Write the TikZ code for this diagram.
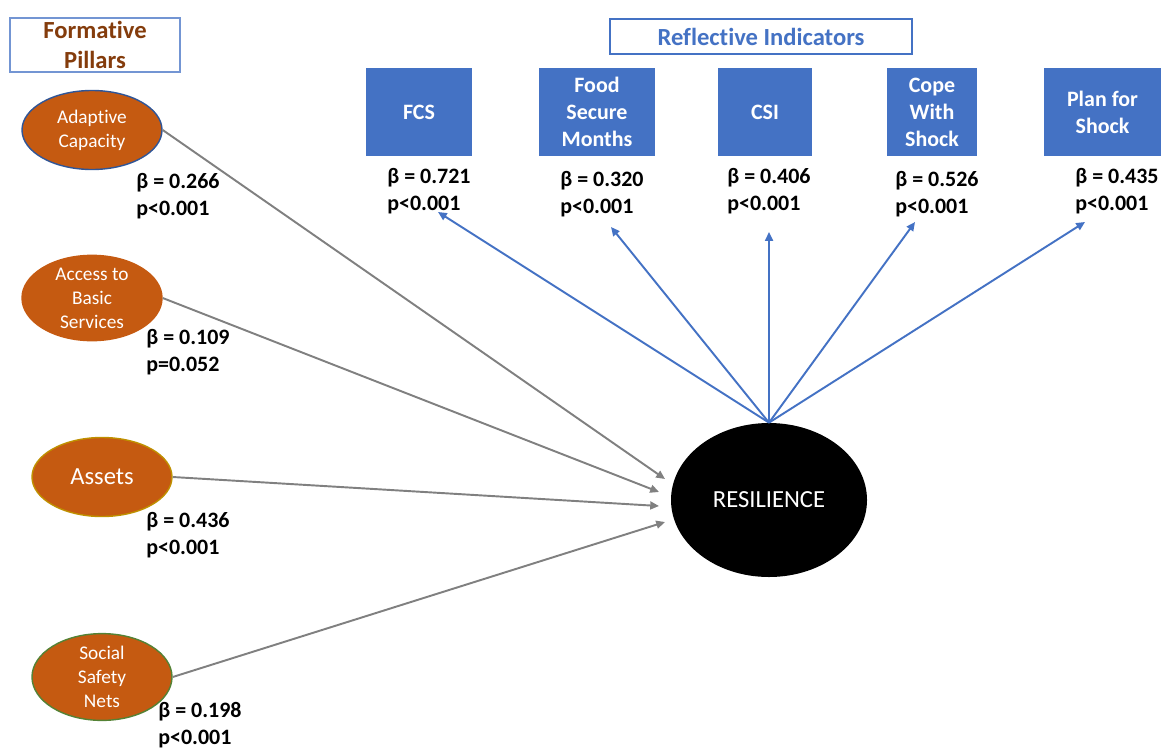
\documentclass[tikz,border=0pt]{standalone}
\usepackage{fontspec}
\setmainfont[Ligatures=NoCommon]{Carlito}
\usepackage{tikz}
\usetikzlibrary{arrows.meta, shapes.geometric, positioning}
\definecolor{officeblue}{RGB}{68,114,196}
\definecolor{officeorange}{RGB}{197,90,17}
\definecolor{pillarbrown}{RGB}{132,60,12}
\definecolor{linegray}{RGB}{128,128,128}
\definecolor{rimblue}{RGB}{47,85,151}
\definecolor{rimgold}{RGB}{191,144,0}
\definecolor{rimgreen}{RGB}{84,130,53}

\begin{document}
\begin{tikzpicture}[
    pillar/.style={ellipse, fill=officeorange, draw=officeorange, thick, minimum width=2.8cm, minimum height=1.58cm, inner sep=0pt, text=white, align=center, font=\fontsize{11}{13.6}\selectfont},
    indicator/.style={rectangle, fill=officeblue, minimum height=1.76cm, inner sep=0pt, text=white, align=center, font=\fontsize{12.5}{15.3}\selectfont\bfseries},
    coef/.style={anchor=west, inner sep=0pt, align=left, font=\fontsize{12.5}{15.3}\selectfont\bfseries},
    heading/.style={rectangle, draw, thick, fill=white, align=center, inner sep=0pt, font=\fontsize{14}{17}\selectfont\bfseries},
    inarrow/.style={-{Triangle[length=5pt, width=4.5pt]}, line width=1.1pt, linegray},
    outarrow/.style={-{Triangle[length=5pt, width=4.5pt]}, line width=1.1pt, officeblue}
]
    \useasboundingbox (0,0) rectangle (23.22,-14.98);

    % Headings
    \node[heading, draw=officeblue!75, text=pillarbrown, minimum width=3.4cm, minimum height=1.08cm] (formative) at (1.9,-0.90) {Formative\\Pillars};
    \node[heading, draw=officeblue, text=officeblue, minimum width=6.04cm, minimum height=0.7cm] (reflective) at (15.22,-0.73) {Reflective Indicators};

    % Central construct
    \node[ellipse, fill=black, minimum width=3.92cm, minimum height=3.08cm, text=white, font=\fontsize{14}{17}\selectfont] (res) at (15.38,-10.0) {RESILIENCE};

    % Formative pillars
    \node[pillar, draw=rimblue] (adap) at (1.84,-2.60) {Adaptive\\Capacity};
    \node[pillar] (access) at (1.84,-5.96) {Access to\\Basic\\Services};
    \node[pillar, draw=rimgold, font=\fontsize{14}{17}\selectfont] (assets) at (2.04,-9.54) {Assets};
    \node[pillar, draw=rimgreen] (safety) at (2.04,-13.54) {Social\\Safety\\Nets};

    % Reflective indicators
    \node[indicator, minimum width=2.12cm] (fcs) at (8.38,-2.24) {FCS};
    \node[indicator, minimum width=2.32cm] (months) at (11.94,-2.24) {Food\\Secure\\Months};
    \node[indicator, minimum width=1.88cm] (csi) at (15.30,-2.24) {CSI};
    \node[indicator, minimum width=1.80cm] (cope) at (18.64,-2.24) {Cope\\With\\Shock};
    \node[indicator, minimum width=2.34cm] (plan) at (22.05,-2.24) {Plan for\\Shock};

    % Coefficients
    \node[coef] (cadap) at (2.72,-3.92) {β = 0.266\\p<0.001};
    \node[coef] (caccess) at (2.92,-7.04) {β = 0.109\\p=0.052};
    \node[coef] (cassets) at (2.92,-10.70) {β = 0.436\\p<0.001};
    \node[coef] (csafety) at (3.16,-14.50) {β = 0.198\\p<0.001};
    \node[coef] (cfcs) at (7.74,-3.82) {β = 0.721\\p<0.001};
    \node[coef] (cmonths) at (11.20,-3.88) {β = 0.320\\p<0.001};
    \node[coef] (ccsi) at (14.54,-3.82) {β = 0.406\\p<0.001};
    \node[coef] (ccope) at (17.90,-3.88) {β = 0.526\\p<0.001};
    \node[coef] (cplan) at (21.50,-3.82) {β = 0.435\\p<0.001};

    % Arrow ends
    \coordinate (inA) at (13.30,-9.58);
    \coordinate (inB) at (13.18,-9.84);
    \coordinate (inC) at (13.18,-10.12);
    \coordinate (inD) at (13.30,-10.44);
    \coordinate (outA) at (8.76,-4.24);
    \coordinate (outB) at (12.22,-4.54);
    \coordinate (outC) at (15.38,-4.64);
    \coordinate (outD) at (18.30,-4.44);
    \coordinate (outE) at (21.70,-4.44);

    % Formative paths
    \draw[inarrow] (adap.east) -- (inA);
    \draw[inarrow] (access.east) -- (inB);
    \draw[inarrow] (assets.east) -- (inC);
    \draw[inarrow] (safety.east) -- (inD);

    % Reflective paths
    \foreach \t in {outA, outB, outC, outD, outE}
        \draw[outarrow] (res.north) -- (\t);
\end{tikzpicture}
\end{document}
